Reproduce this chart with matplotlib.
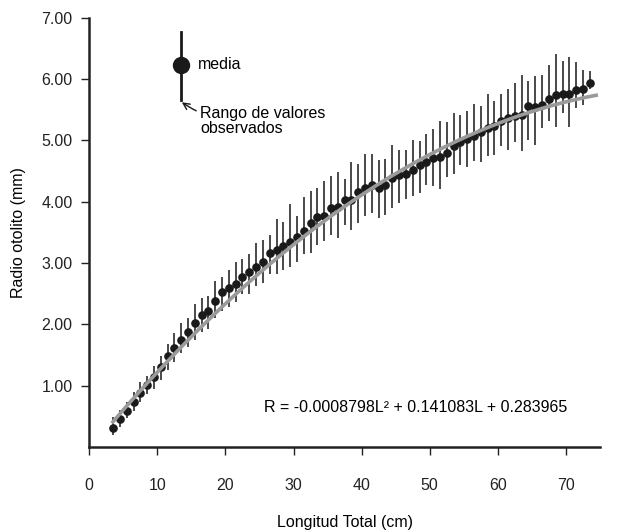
import matplotlib
matplotlib.use("Agg")
import matplotlib.pyplot as plt
import numpy as np

plt.rcParams['font.family'] = ['Liberation Sans', 'DejaVu Sans']

# Length classes (cm) and mean otolith radius (mm)
longitud = [3.5 + k for k in range(71)]
radio_media = [0.31, 0.45, 0.59, 0.74, 0.88, 1.01, 1.15, 1.30, 1.48, 1.61,
               1.74, 1.88, 2.03, 2.15, 2.22, 2.38, 2.52, 2.60, 2.66, 2.77,
               2.85, 2.94, 3.02, 3.17, 3.22, 3.27, 3.35, 3.42, 3.52, 3.65,
               3.75, 3.76, 3.90, 3.91, 4.02, 4.02, 4.16, 4.22, 4.27, 4.23,
               4.28, 4.38, 4.43, 4.45, 4.52, 4.59, 4.65, 4.71, 4.73, 4.80,
               4.90, 4.97, 5.02, 5.07, 5.14, 5.20, 5.24, 5.31, 5.36, 5.39,
               5.41, 5.56, 5.55, 5.58, 5.67, 5.74, 5.75, 5.76, 5.82, 5.83,
               5.93]
err_lo = [0.12, 0.12, 0.12, 0.15, 0.15, 0.15, 0.20, 0.20, 0.22, 0.22,
          0.20, 0.25, 0.28, 0.28, 0.30, 0.28, 0.30, 0.32, 0.30, 0.28,
          0.35, 0.32, 0.35, 0.35, 0.40, 0.38, 0.42, 0.40, 0.38, 0.48,
          0.45, 0.40, 0.45, 0.50, 0.40, 0.48, 0.50, 0.45, 0.45, 0.50,
          0.50, 0.48, 0.45, 0.40, 0.42, 0.45, 0.38, 0.45, 0.52, 0.40,
          0.45, 0.38, 0.45, 0.40, 0.50, 0.45, 0.48, 0.40, 0.52, 0.42,
          0.58, 0.55, 0.62, 0.38, 0.35, 0.52, 0.30, 0.55, 0.30, 0.25,
          0.10]
err_hi = [0.18, 0.15, 0.14, 0.16, 0.18, 0.15, 0.18, 0.18, 0.20, 0.25,
          0.28, 0.22, 0.30, 0.28, 0.25, 0.32, 0.25, 0.28, 0.35, 0.30,
          0.30, 0.38, 0.35, 0.28, 0.50, 0.40, 0.62, 0.35, 0.55, 0.52,
          0.48, 0.58, 0.52, 0.58, 0.35, 0.62, 0.45, 0.55, 0.50, 0.45,
          0.42, 0.55, 0.42, 0.40, 0.48, 0.40, 0.45, 0.48, 0.58, 0.50,
          0.55, 0.45, 0.45, 0.52, 0.42, 0.55, 0.40, 0.45, 0.48, 0.55,
          0.65, 0.40, 0.50, 0.48, 0.55, 0.67, 0.55, 0.60, 0.45, 0.32,
          0.20]

# Fitted curve as drawn (quadratic coefficients)
curve_coef = [-0.000762, 0.13437, -0.0451]
curve_range = [3.3, 74.7]

x_ticks = [0, 10, 20, 30, 40, 50, 60, 70]
y_ticks = [1, 2, 3, 4, 5, 6, 7]
y_ticklabels = ["1.00", "2.00", "3.00", "4.00", "5.00", "6.00", "7.00"]

FS = 11.5

fig = plt.figure(figsize=(6.17, 5.31), dpi=100)
ax = fig.add_axes([0.1447, 0.158, 0.8277, 0.8088])

ax.errorbar(longitud, radio_media, yerr=[err_lo, err_hi], fmt='o',
            color='#1a1a1a', ecolor='#2a2a2a', elinewidth=1.2,
            markersize=5.2, capsize=0, zorder=2)

lc = np.linspace(curve_range[0], curve_range[1], 200)
ax.plot(lc, np.polyval(curve_coef, lc), color='#9a9a9a', lw=2.6,
        solid_capstyle='butt', zorder=3)

# legend-like annotation
ax.plot([13.47, 13.47], [5.66, 6.77], color='#1a1a1a', lw=2.0, zorder=4)
ax.plot([13.47], [6.23], 'o', color='#1a1a1a', markersize=11.5, zorder=5)
ax.text(15.9, 6.23, "media", fontsize=FS, va='center', ha='left')
ax.annotate("Rango de valores\nobservados", xy=(13.6, 5.62), xytext=(16.3, 5.32),
            fontsize=FS, va='center', ha='left', linespacing=1.0,
            arrowprops=dict(arrowstyle='->', color='#1a1a1a', lw=1.0,
                            shrinkA=1, shrinkB=0,
                            connectionstyle='arc3,rad=-0.2'))

ax.text(48.0, 0.64, "R = -0.0008798L\u00b2 + 0.141083L + 0.283965",
        fontsize=FS, ha='center', va='center')

ax.set_xlim(0, 75)
ax.set_ylim(0, 7)
ax.set_xticks(x_ticks)
ax.set_yticks(y_ticks)
ax.set_yticklabels(y_ticklabels)
ax.spines['top'].set_visible(False)
ax.spines['right'].set_visible(False)
for s in ['left', 'bottom']:
    ax.spines[s].set_linewidth(1.8)
    ax.spines[s].set_color('#222222')
ax.tick_params(axis='x', direction='out', length=6, width=1.0,
               pad=16, labelsize=FS, colors='#222222')
ax.tick_params(axis='y', direction='out', length=6, width=1.0,
               pad=6, labelsize=FS, colors='#222222')
ax.set_xlabel("Longitud Total (cm)", fontsize=FS, labelpad=16)
ax.set_ylabel("Radio otolito (mm)", fontsize=FS, labelpad=11)

fig.savefig("out.png", dpi=100)
